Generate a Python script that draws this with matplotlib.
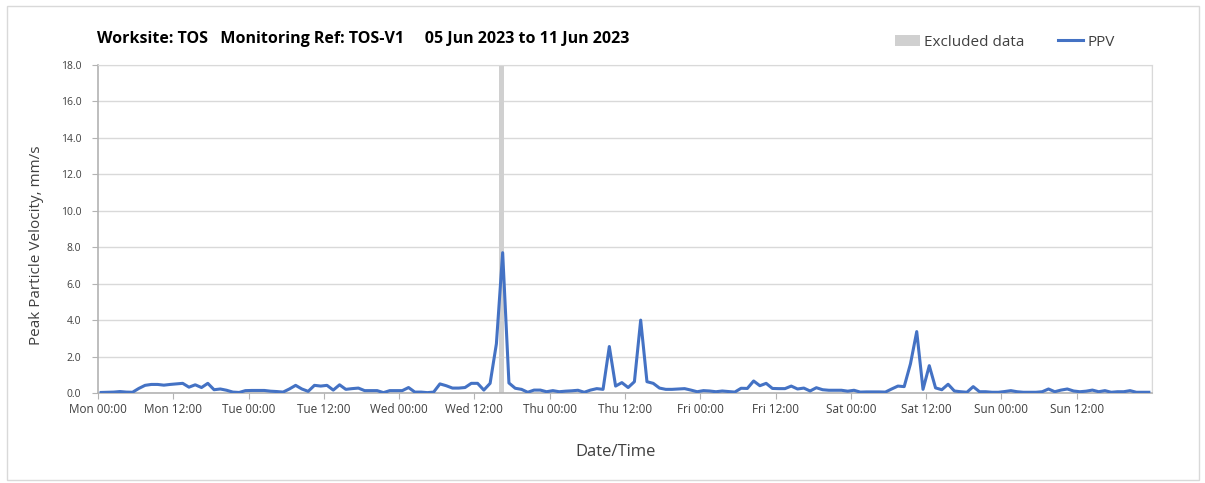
import matplotlib
matplotlib.use("Agg")
import matplotlib.pyplot as plt
import matplotlib.dates as mdates
import pandas as pd
from matplotlib.patches import Rectangle

plt.rcParams['font.family'] = ['Open Sans', 'DejaVu Sans']

# hourly peak particle velocity, mm/s (readings logged at half past each hour)
ppv = [
    0.03, 0.04, 0.05, 0.08, 0.05, 0.04, 0.25, 0.42, 0.47, 0.47,
    0.43, 0.47, 0.50, 0.53, 0.32, 0.45, 0.30, 0.53, 0.18, 0.22,
    0.15, 0.05, 0.03, 0.13, 0.14, 0.14, 0.14, 0.10, 0.08, 0.05,
    0.22, 0.42, 0.22, 0.09, 0.42, 0.38, 0.42, 0.16, 0.45, 0.20,
    0.24, 0.27, 0.13, 0.13, 0.13, 0.02, 0.13, 0.13, 0.13, 0.30,
    0.05, 0.05, 0.02, 0.05, 0.50, 0.40, 0.27, 0.27, 0.30, 0.53,
    0.53, 0.16, 0.53, 2.70, 7.70, 0.55, 0.26, 0.20, 0.04, 0.16,
    0.16, 0.07, 0.13, 0.07, 0.10, 0.12, 0.15, 0.04, 0.16, 0.24,
    0.20, 2.55, 0.38, 0.57, 0.30, 0.62, 4.00, 0.62, 0.53, 0.27,
    0.20, 0.20, 0.22, 0.24, 0.16, 0.07, 0.13, 0.11, 0.07, 0.11,
    0.08, 0.05, 0.26, 0.25, 0.66, 0.40, 0.53, 0.25, 0.24, 0.24,
    0.38, 0.22, 0.27, 0.11, 0.29, 0.18, 0.15, 0.15, 0.15, 0.10,
    0.15, 0.05, 0.06, 0.06, 0.06, 0.05, 0.22, 0.38, 0.35, 1.60,
    3.37, 0.20, 1.50, 0.28, 0.18, 0.48, 0.11, 0.07, 0.04, 0.35,
    0.07, 0.07, 0.04, 0.04, 0.08, 0.13, 0.07, 0.04, 0.04, 0.04,
    0.07, 0.22, 0.07, 0.16, 0.22, 0.11, 0.07, 0.10, 0.16, 0.07,
    0.13, 0.04, 0.07, 0.07, 0.13, 0.04, 0.04, 0.04,
]
first_reading = "2023-06-05 00:30"

# period removed from the record
excluded_start = "2023-06-07 15:55"
excluded_end = "2023-06-07 16:45"

week_start = "2023-06-05 00:00"
week_end = "2023-06-12 00:00"
y_ticks = [0, 2, 4, 6, 8, 10, 12, 14, 16, 18]

title = "Worksite: TOS   Monitoring Ref: TOS-V1     05 Jun 2023 to 11 Jun 2023"

times = pd.date_range(first_reading, periods=len(ppv), freq="h")

axis_grey = "#b3b3b3"
grid_grey = "#d9d9d9"
text_grey = "#404040"

fig = plt.figure(figsize=(12.05, 4.83), dpi=100)
ax = fig.add_axes([98 / 1205, 1 - 393 / 483, (1152 - 98) / 1205, (393 - 65) / 483])

# thin frame round the whole chart
fig.patches.append(Rectangle((7 / 1205, 3 / 483), 1192 / 1205, 474 / 483,
                             transform=fig.transFigure, fill=False,
                             edgecolor=grid_grey, linewidth=1))

excl = ax.axvspan(pd.Timestamp(excluded_start), pd.Timestamp(excluded_end),
                  color="#d0d0d0", linewidth=0, label="Excluded data", zorder=1)
line, = ax.plot(times, ppv, color="#4472c4", linewidth=2.2, label="PPV", zorder=3)

ax.set_xlim(pd.Timestamp(week_start), pd.Timestamp(week_end))
ax.set_ylim(0, 18)
ax.set_yticks(y_ticks)
ax.yaxis.set_major_formatter(matplotlib.ticker.FormatStrFormatter("%.1f"))

# labelled ticks every 12 h, grid lines only at midnight
ax.xaxis.set_major_formatter(mdates.DateFormatter("%a %H:%M"))
ax.xaxis.set_minor_locator(mdates.DayLocator())
ticks = list(pd.date_range(week_start, week_end, freq="12h"))[:-1]
ax.set_xticks(ticks)

ax.grid(True, axis="y", color=grid_grey, linewidth=1)
ax.grid(True, axis="x", which="minor", color=grid_grey, linewidth=1)
ax.set_axisbelow(True)

for side in ["top", "right"]:
    ax.spines[side].set_color(grid_grey)
for side in ["left", "bottom"]:
    ax.spines[side].set_color(axis_grey)
    ax.spines[side].set_linewidth(1.2)

ax.tick_params(axis="both", which="major", direction="out", length=4,
               color=axis_grey, labelcolor=text_grey)
ax.tick_params(axis="x", which="major", labelsize=8.5, pad=3)
ax.tick_params(axis="y", which="major", labelsize=7.5, pad=8)
ax.tick_params(axis="x", which="minor", length=0)

ax.set_ylabel("Peak Particle Velocity, mm/s", fontsize=11, color=text_grey, va="center")
ax.yaxis.set_label_coords(-0.058, 0.451)
ax.set_xlabel("Date/Time", fontsize=12, color=text_grey, va="center")
ax.xaxis.set_label_coords(0.4915, -0.18)

fig.text(97 / 1205, 1 - 39 / 483, title, fontsize=11.5, fontweight="bold",
         ha="left", va="center", color="black")

ax.legend(handles=[excl, line], loc="center", ncol=2, frameon=False,
          bbox_to_anchor=(1005 / 1205, 1 - 42 / 483), bbox_transform=fig.transFigure,
          fontsize=11, handlelength=1.6, handletextpad=0.3, columnspacing=2.2,
          labelcolor=text_grey)

fig.savefig("out.png", dpi=100, facecolor="white")
